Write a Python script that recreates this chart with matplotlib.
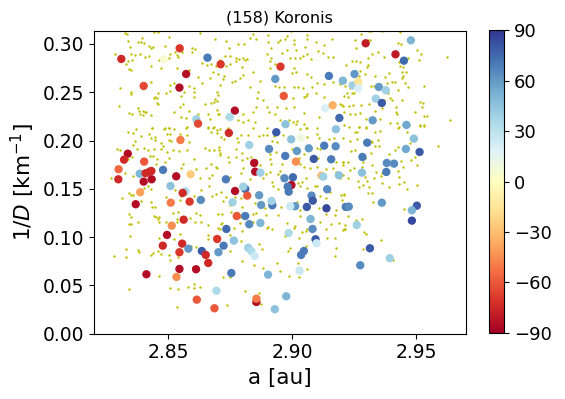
import numpy as np
import matplotlib
matplotlib.use("Agg")
import matplotlib.pyplot as plt

# objects with pole solutions: semimajor axis, 1/D, pole latitude
pole_a = [2.8312, 2.8547, 2.8659, 2.8712, 2.8484, 2.8573, 2.8402, 2.8546, 2.8614, 2.8621,
          2.8953, 2.8932, 2.9148, 2.9204, 2.8966, 2.8769, 2.8749, 2.9133, 2.9163, 2.9190,
          2.8973, 2.9176, 2.9296, 2.9478, 2.9416, 2.9450, 2.9251, 2.9243, 2.9266, 2.9266,
          2.9349, 2.9377, 2.9337, 2.9361, 2.9324, 2.9460, 2.8550, 2.8338, 2.8323, 2.8404,
          2.8301, 2.8300, 2.8386, 2.8410, 2.8426, 2.8433, 2.8402, 2.8434, 2.8480, 2.8533,
          2.8591, 2.8510, 2.8388, 2.8570, 2.8559, 2.8370, 2.8511, 2.8587, 2.8632, 2.8563,
          2.8515, 2.8745, 2.8936, 2.8827, 2.9035, 2.8996, 2.9129, 2.9175, 2.8907, 2.9019,
          2.9067, 2.8972, 2.9015, 2.9087, 2.9157, 2.8847, 2.8851, 2.8872, 2.8733, 2.8969,
          2.9003, 2.8997, 2.9118, 2.9125, 2.9188, 2.8982, 2.8986, 2.8770, 2.8811, 2.8803,
          2.8819, 2.8867, 2.8760, 2.8875, 2.8920, 2.8917, 2.9012, 2.8992, 2.9059, 2.9078,
          2.9083, 2.9141, 2.9138, 2.9216, 2.8777, 2.8811, 2.8827, 2.8872, 2.9074, 2.9082,
          2.8735, 2.9490, 2.9458, 2.9513, 2.9302, 2.9283, 2.9381, 2.9410, 2.9379, 2.9281,
          2.9228, 2.9361, 2.9502, 2.9482, 2.9482, 2.9260, 2.8496, 2.8557, 2.8479, 2.8546,
          2.8582, 2.8636, 2.8652, 2.8662, 2.8698, 2.8703, 2.8546, 2.8613, 2.8413, 2.8534,
          2.8695, 2.8616, 2.8687, 2.8765, 2.8724, 2.8823, 2.8835, 2.8849, 2.8986, 2.9094,
          2.9098, 2.9047, 2.9036, 2.9030, 2.8755, 2.8903, 2.8976, 2.8856, 2.8856, 2.8930,
          2.9313, 2.9393, 2.9274]
pole_invd = [0.2845, 0.2955, 0.2858, 0.2790, 0.2842, 0.2689, 0.2565, 0.2548, 0.2221, 0.2175,
             0.2765, 0.2638, 0.2669, 0.2620, 0.2462, 0.2310, 0.2244, 0.2334, 0.2365, 0.2234,
             0.2169, 0.2117, 0.3007, 0.3038, 0.2893, 0.2827, 0.2689, 0.2572, 0.2610, 0.2541,
             0.2555, 0.2521, 0.2434, 0.2389, 0.2210, 0.2162, 0.2006, 0.1864, 0.1802, 0.1782,
             0.1703, 0.1599, 0.1657, 0.1662, 0.1678, 0.1685, 0.1575, 0.1599, 0.1696, 0.1630,
             0.1651, 0.1530, 0.1465, 0.1475, 0.1458, 0.1341, 0.1357, 0.1368, 0.1385, 0.1181,
             0.1119, 0.2079, 0.2086, 0.1954, 0.2030, 0.2013, 0.1947, 0.1941, 0.1913, 0.1892,
             0.1920, 0.1841, 0.1782, 0.1810, 0.1806, 0.1768, 0.1678, 0.1668, 0.1599, 0.1610,
             0.1620, 0.1540, 0.1637, 0.1626, 0.1641, 0.1523, 0.1471, 0.1478, 0.1499, 0.1523,
             0.1430, 0.1434, 0.1361, 0.1333, 0.1330, 0.1375, 0.1320, 0.1320, 0.1313, 0.1430,
             0.1378, 0.1496, 0.1299, 0.1313, 0.1219, 0.1219, 0.1134, 0.1147, 0.1188, 0.1085,
             0.1085, 0.2020, 0.1913, 0.1882, 0.1978, 0.1830, 0.1768, 0.1761, 0.1675, 0.1668,
             0.1316, 0.1357, 0.1326, 0.1278, 0.1171, 0.1126, 0.1023, 0.0933, 0.0912, 0.0844,
             0.0881, 0.0857, 0.0816, 0.0733, 0.0981, 0.0844, 0.0671, 0.0668, 0.0616, 0.0588,
             0.0446, 0.0353, 0.0264, 0.0964, 0.0912, 0.0891, 0.0857, 0.0805, 0.1043, 0.0978,
             0.0937, 0.0857, 0.0816, 0.0653, 0.0629, 0.0612, 0.0388, 0.0329, 0.0363, 0.0254,
             0.0885, 0.0782, 0.0709]
pole_beta = [-75, -70, 70, -70, 5, -85, -65, -85, 40, -65,
             -70, 60, 70, 50, -60, -85, 35, 20, -35, 75,
             45, 45, -80, 50, -80, 75, 60, 40, -15, 20,
             60, 40, 40, 80, 60, 55, -50, -85, -75, -60,
             -55, -75, 50, -75, -75, -75, -85, -85, 70, -85,
             -25, 45, -40, 35, -75, -85, -50, -70, 65, -75,
             -45, -75, 80, 40, 10, 45, 70, 65, 65, 60,
             60, 70, -45, 80, 70, -85, -85, 40, 70, 65,
             75, -85, -30, 40, 45, 70, 70, -85, 75, 40,
             -60, 60, 40, 60, 70, 40, 60, 25, 80, 65,
             80, 65, 85, 70, -60, 70, 65, 50, 50, 65,
             75, 45, 55, 80, 70, 70, 65, 65, 70, 45,
             65, 60, 80, 50, 85, 40, -85, -75, -75, -70,
             60, 80, -75, -75, -70, 60, -85, -85, -85, -45,
             35, -60, -60, 45, 70, 40, 35, 25, 35, 80,
             25, 70, 70, 25, 70, 50, 50, -85, -50, 45,
             80, 40, 65]

# all family members (a, 1/D)
family_pts = [
    (2.8325, 0.3111), (2.8333, 0.3100), (2.8395, 0.3066), (2.8443, 0.3121), (2.8460, 0.3128),
    (2.8502, 0.3076), (2.8627, 0.3111), (2.8689, 0.3052), (2.8339, 0.3035), (2.8380, 0.3018),
    (2.8391, 0.3025), (2.8402, 0.3007), (2.8347, 0.2973), (2.8423, 0.2980), (2.8433, 0.2956),
    (2.8439, 0.2966), (2.8489, 0.2983), (2.8285, 0.2893), (2.8351, 0.2900), (2.8368, 0.2887),
    (2.8387, 0.2893), (2.8409, 0.2866), (2.8422, 0.2876), (2.8465, 0.2831), (2.8505, 0.2859),
    (2.8509, 0.2893), (2.8528, 0.2914), (2.8537, 0.2887), (2.8542, 0.2862), (2.8557, 0.2921),
    (2.8595, 0.2956), (2.8609, 0.2949), (2.8595, 0.2921), (2.8339, 0.2824), (2.8355, 0.2831),
    (2.8331, 0.2790), (2.8431, 0.2776), (2.8471, 0.2749), (2.8537, 0.2749), (2.8343, 0.2738),
    (2.8351, 0.2728), (2.8638, 0.2807), (2.8659, 0.2783), (2.8674, 0.2790), (2.8695, 0.2769),
    (2.8680, 0.2714), (2.8671, 0.2645), (2.8584, 0.2731), (2.8620, 0.2662), (2.8526, 0.2593),
    (2.8510, 0.2576), (2.8585, 0.2566), (2.8635, 0.2593), (2.8308, 0.2541), (2.8352, 0.2507),
    (2.8349, 0.2479), (2.8430, 0.2604), (2.8459, 0.2497), (2.8446, 0.2455), (2.8442, 0.2438),
    (2.8454, 0.2438), (2.8507, 0.2514), (2.8493, 0.2490), (2.8604, 0.2548), (2.8606, 0.2507),
    (2.8606, 0.2455), (2.8566, 0.2507), (2.8553, 0.2466), (2.8561, 0.2379), (2.8550, 0.2345),
    (2.8648, 0.2383), (2.8674, 0.2393), (2.8690, 0.2431), (2.8687, 0.2400), (2.8698, 0.2410),
    (2.8454, 0.2386), (2.8460, 0.2376), (2.8302, 0.2362), (2.8379, 0.2335), (2.8385, 0.2307),
    (2.8389, 0.2279), (2.8401, 0.2307), (2.8408, 0.2293), (2.8401, 0.2265), (2.8413, 0.2293),
    (2.8430, 0.2265), (2.8343, 0.2290), (2.8357, 0.2279), (2.8526, 0.2293), (2.8585, 0.2307),
    (2.8622, 0.2279), (2.8660, 0.2279), (2.8699, 0.2317), (2.8703, 0.2272), (2.8551, 0.2245),
    (2.8573, 0.2234), (2.8668, 0.2221), (2.8435, 0.2128), (2.8486, 0.2128), (2.8502, 0.2128),
    (2.8576, 0.2138), (2.8663, 0.2138), (2.8687, 0.2141),
    (2.8842, 0.3100), (2.8830, 0.3066), (2.8856, 0.3052), (2.8901, 0.3094), (2.8978, 0.3083),
    (2.8970, 0.3052), (2.8994, 0.3135), (2.9061, 0.3094), (2.9058, 0.3052), (2.9160, 0.3052),
    (2.8735, 0.3035), (2.8781, 0.2997), (2.8804, 0.2997), (2.8746, 0.2956), (2.8903, 0.3018),
    (2.8915, 0.2962), (2.8944, 0.3018), (2.8951, 0.3042), (2.8979, 0.2942), (2.9007, 0.3042),
    (2.9006, 0.2997), (2.9015, 0.2938), (2.9050, 0.2966), (2.9097, 0.3018), (2.9127, 0.2993),
    (2.9102, 0.2924), (2.8730, 0.2880), (2.8751, 0.2876), (2.8773, 0.2859), (2.8784, 0.2845),
    (2.8800, 0.2852), (2.8775, 0.2824), (2.8812, 0.2831), (2.8818, 0.2845), (2.8708, 0.2835),
    (2.8749, 0.2793), (2.8796, 0.2766), (2.8733, 0.2776), (2.8897, 0.2893), (2.8916, 0.2852),
    (2.8960, 0.2907), (2.8993, 0.2859), (2.9031, 0.2852), (2.9013, 0.2852), (2.9044, 0.2880),
    (2.9058, 0.2893), (2.9076, 0.2842), (2.9123, 0.2904), (2.9145, 0.2869), (2.9165, 0.2862),
    (2.8910, 0.2824), (2.8932, 0.2790), (2.8911, 0.2755), (2.8950, 0.2755), (2.9006, 0.2749),
    (2.9014, 0.2714), (2.9001, 0.2697), (2.9060, 0.2686), (2.9076, 0.2662), (2.8844, 0.2714),
    (2.8702, 0.2686), (2.8727, 0.2673), (2.8722, 0.2638), (2.8757, 0.2604), (2.8769, 0.2617),
    (2.8789, 0.2645), (2.8800, 0.2679), (2.8829, 0.2552), (2.8870, 0.2617), (2.8932, 0.2566),
    (2.8948, 0.2559), (2.8969, 0.2559), (2.9008, 0.2555), (2.9024, 0.2559), (2.9045, 0.2548),
    (2.9080, 0.2559), (2.9099, 0.2600), (2.9127, 0.2586), (2.9164, 0.2610), (2.9192, 0.2583),
    (2.8711, 0.2576), (2.8698, 0.2507), (2.8702, 0.2473), (2.8864, 0.2507), (2.8860, 0.2438),
    (2.8882, 0.2421), (2.9005, 0.2445), (2.9049, 0.2455), (2.9055, 0.2466), (2.9059, 0.2479),
    (2.9096, 0.2490), (2.9127, 0.2455), (2.9193, 0.2379), (2.9204, 0.2362), (2.9209, 0.2466),
    (2.8704, 0.2272), (2.8735, 0.2245), (2.8777, 0.2307), (2.8802, 0.2279), (2.8842, 0.2297),
    (2.8856, 0.2345), (2.8899, 0.2348), (2.8907, 0.2293), (2.8931, 0.2279), (2.8938, 0.2348),
    (2.8974, 0.2335), (2.9009, 0.2348), (2.9046, 0.2290), (2.9110, 0.2248), (2.8781, 0.2210),
    (2.8801, 0.2197), (2.8821, 0.2214), (2.8851, 0.2190), (2.8949, 0.2217), (2.8988, 0.2214),
    (2.9004, 0.2197), (2.9019, 0.2207), (2.9017, 0.2169), (2.9046, 0.2169), (2.9060, 0.2128),
    (2.8708, 0.2124), (2.9099, 0.2134), (2.9031, 0.2121),
    (2.9277, 0.3107), (2.9310, 0.3135), (2.9317, 0.3138), (2.9363, 0.3135), (2.9434, 0.3121),
    (2.9253, 0.3045), (2.9304, 0.3042), (2.9259, 0.2956), (2.9313, 0.3042), (2.9427, 0.3007),
    (2.9438, 0.2997), (2.9347, 0.2921), (2.9368, 0.2866), (2.9320, 0.2893), (2.9304, 0.2852),
    (2.9239, 0.2824), (2.9257, 0.2824), (2.9274, 0.2817), (2.9306, 0.2783), (2.9301, 0.2762),
    (2.9218, 0.2783), (2.9273, 0.2724), (2.9271, 0.2673), (2.9293, 0.2690), (2.9333, 0.2669),
    (2.9374, 0.2655), (2.9391, 0.2697), (2.9441, 0.2707), (2.9458, 0.2707), (2.9447, 0.2673),
    (2.9443, 0.2652), (2.9430, 0.2817), (2.9435, 0.2773), (2.9448, 0.2762), (2.9467, 0.2852),
    (2.9501, 0.2935), (2.9518, 0.2897), (2.9510, 0.2831), (2.9622, 0.2866), (2.9400, 0.2611),
    (2.9380, 0.2600), (2.9414, 0.2607), (2.9212, 0.2566), (2.9231, 0.2548), (2.9317, 0.2569),
    (2.9328, 0.2566), (2.9353, 0.2576), (2.9454, 0.2593), (2.9467, 0.2552), (2.9529, 0.2562),
    (2.9226, 0.2448), (2.9220, 0.2490), (2.9239, 0.2490), (2.9249, 0.2490), (2.9387, 0.2490),
    (2.9395, 0.2445), (2.9403, 0.2421), (2.9368, 0.2417), (2.9425, 0.2524), (2.9202, 0.2369),
    (2.9229, 0.2362), (2.9246, 0.2369), (2.9277, 0.2369), (2.9309, 0.2376), (2.9333, 0.2310),
    (2.9360, 0.2341), (2.9419, 0.2352), (2.9441, 0.2421), (2.9513, 0.2403), (2.9528, 0.2386),
    (2.9523, 0.2352), (2.9494, 0.2300), (2.9419, 0.2300), (2.9423, 0.2272), (2.9210, 0.2300),
    (2.9231, 0.2279), (2.9253, 0.2272), (2.9274, 0.2286), (2.9531, 0.2255), (2.9541, 0.2255),
    (2.9637, 0.2214), (2.9355, 0.2224), (2.9296, 0.2224), (2.9210, 0.2162), (2.9229, 0.2145),
    (2.9269, 0.2141), (2.9296, 0.2145), (2.9394, 0.2179), (2.9421, 0.2179), (2.9447, 0.2162),
    (2.9471, 0.2165), (2.9513, 0.2162), (2.9529, 0.2162), (2.9430, 0.2145),
    (2.8339, 0.2092), (2.8360, 0.2082), (2.8371, 0.2116), (2.8435, 0.2127), (2.8485, 0.2116),
    (2.8502, 0.2127), (2.8523, 0.2116), (2.8574, 0.2133), (2.8661, 0.2133), (2.8681, 0.2127),
    (2.8672, 0.2092), (2.8697, 0.2075), (2.8390, 0.2051), (2.8423, 0.2064), (2.8430, 0.2030),
    (2.8446, 0.2040), (2.8446, 0.2006), (2.8470, 0.1971), (2.8478, 0.1947), (2.8496, 0.2064),
    (2.8509, 0.2064), (2.8502, 0.2009), (2.8513, 0.1995), (2.8583, 0.1989), (2.8576, 0.2058),
    (2.8547, 0.2064), (2.8367, 0.1999), (2.8359, 0.1954), (2.8296, 0.1909), (2.8305, 0.1902),
    (2.8375, 0.1909), (2.8402, 0.1920), (2.8419, 0.1902), (2.8442, 0.1913), (2.8473, 0.1913),
    (2.8494, 0.1885), (2.8521, 0.1906), (2.8543, 0.1895), (2.8578, 0.1902), (2.8648, 0.1926),
    (2.8666, 0.1902), (2.8685, 0.1902), (2.8705, 0.1930), (2.8708, 0.1851), (2.8339, 0.1806),
    (2.8355, 0.1833), (2.8429, 0.1844), (2.8441, 0.1844), (2.8457, 0.1806), (2.8450, 0.1761),
    (2.8502, 0.1816), (2.8489, 0.1775), (2.8606, 0.1806), (2.8561, 0.1757), (2.8553, 0.1719),
    (2.8611, 0.1706), (2.8654, 0.1713), (2.8674, 0.1754), (2.8697, 0.1713), (2.8677, 0.1644),
    (2.8664, 0.1609), (2.8629, 0.1609), (2.8664, 0.1533), (2.8272, 0.1609), (2.8325, 0.1668),
    (2.8361, 0.1637), (2.8427, 0.1616), (2.8443, 0.1599), (2.8421, 0.1530), (2.8430, 0.1499),
    (2.8403, 0.1509), (2.8341, 0.1454), (2.8352, 0.1436), (2.8360, 0.1436), (2.8316, 0.1409),
    (2.8392, 0.1374), (2.8430, 0.1361), (2.8434, 0.1316), (2.8448, 0.1309), (2.8490, 0.1419),
    (2.8527, 0.1488), (2.8547, 0.1381), (2.8520, 0.1247), (2.8540, 0.1264), (2.8537, 0.1188),
    (2.8611, 0.1247), (2.8607, 0.1154), (2.8630, 0.1229), (2.8634, 0.1161), (2.8661, 0.1126),
    (2.8715, 0.1140), (2.8701, 0.1240), (2.8343, 0.1236), (2.8352, 0.1212), (2.8341, 0.1136),
    (2.8352, 0.1140), (2.8378, 0.1161), (2.8443, 0.1219), (2.8450, 0.1212), (2.8464, 0.1209),
    (2.8460, 0.1185), (2.8464, 0.1161), (2.8490, 0.1154), (2.8536, 0.1161), (2.8587, 0.1195),
    (2.8571, 0.1443), (2.8553, 0.1430), (2.8603, 0.1430), (2.8677, 0.1423), (2.8634, 0.1488),
    (2.8692, 0.1443),
    (2.8698, 0.2109), (2.8715, 0.2033), (2.8725, 0.2016), (2.8743, 0.2127), (2.8776, 0.2023),
    (2.8781, 0.1989), (2.8792, 0.2058), (2.8823, 0.2058), (2.8844, 0.2127), (2.8899, 0.2127),
    (2.8926, 0.2051), (2.8937, 0.1989), (2.8917, 0.1999), (2.8866, 0.2047), (2.8883, 0.2058),
    (2.8897, 0.2058), (2.8964, 0.2058), (2.9055, 0.2127), (2.9060, 0.2037), (2.9101, 0.2064),
    (2.9107, 0.2030), (2.9148, 0.2016), (2.9168, 0.2030), (2.9203, 0.2023), (2.9098, 0.1920),
    (2.9114, 0.1913), (2.8706, 0.1902), (2.8711, 0.1875), (2.8743, 0.1826), (2.8745, 0.1781),
    (2.8772, 0.1909), (2.8772, 0.1833), (2.8798, 0.1795), (2.8796, 0.1875), (2.8819, 0.1816),
    (2.8836, 0.1830), (2.8856, 0.1802), (2.8872, 0.1747), (2.8910, 0.1857), (2.8910, 0.1806),
    (2.8914, 0.1757), (2.8933, 0.1885), (2.8958, 0.1757), (2.8998, 0.1913), (2.9028, 0.1816),
    (2.9033, 0.1761), (2.9047, 0.1730), (2.9047, 0.1864), (2.9071, 0.1713), (2.9098, 0.1730),
    (2.9105, 0.1823), (2.9138, 0.1709), (2.9176, 0.1778), (2.9203, 0.1781), (2.9166, 0.1716),
    (2.8695, 0.1726), (2.8749, 0.1626), (2.8793, 0.1661), (2.8802, 0.1713), (2.8832, 0.1599),
    (2.8883, 0.1609), (2.8894, 0.1650), (2.8910, 0.1678), (2.8950, 0.1688), (2.8941, 0.1650),
    (2.8954, 0.1637), (2.8958, 0.1592), (2.8918, 0.1568), (2.8923, 0.1533), (2.8942, 0.1499),
    (2.9023, 0.1557), (2.9033, 0.1533), (2.9041, 0.1574), (2.9055, 0.1609), (2.9102, 0.1643),
    (2.9060, 0.1506), (2.9090, 0.1530), (2.9098, 0.1530), (2.9114, 0.1430), (2.9138, 0.1402),
    (2.9154, 0.1471), (2.9195, 0.1436), (2.9208, 0.1436), (2.9178, 0.1678), (2.9192, 0.1609),
    (2.8715, 0.1471), (2.8733, 0.1419), (2.8722, 0.1374), (2.8750, 0.1333), (2.8770, 0.1419),
    (2.8793, 0.1402), (2.8796, 0.1316), (2.8849, 0.1357), (2.8843, 0.1236), (2.8856, 0.1254),
    (2.8890, 0.1299), (2.8894, 0.1229), (2.8941, 0.1229), (2.8954, 0.1316), (2.9020, 0.1361),
    (2.9031, 0.1281), (2.9033, 0.1223), (2.9087, 0.1368), (2.9107, 0.1305), (2.9138, 0.1236),
    (2.9178, 0.1281), (2.9205, 0.1340), (2.8719, 0.1236), (2.8755, 0.1257), (2.8768, 0.1195),
    (2.8792, 0.1209), (2.8789, 0.1143), (2.8716, 0.1147), (2.8708, 0.1085), (2.8765, 0.1098),
    (2.8844, 0.1161), (2.8898, 0.1098), (2.8980, 0.1150), (2.9011, 0.1112), (2.9060, 0.1085),
    (2.9111, 0.1161), (2.9135, 0.1085), (2.9158, 0.1136), (2.9188, 0.1150), (2.9212, 0.1126),
    (2.9174, 0.1229),
    (2.9253, 0.2092), (2.9263, 0.2085), (2.9269, 0.2144), (2.9296, 0.2133), (2.9333, 0.2089),
    (2.9353, 0.2099), (2.9425, 0.2133), (2.9461, 0.2092), (2.9516, 0.2154), (2.9531, 0.2154),
    (2.9233, 0.1995), (2.9263, 0.2013), (2.9316, 0.1995), (2.9323, 0.1982), (2.9347, 0.2006),
    (2.9332, 0.1947), (2.9349, 0.1947), (2.9253, 0.1902), (2.9235, 0.1892), (2.9223, 0.1781),
    (2.9203, 0.1775), (2.9204, 0.1747), (2.9233, 0.1695), (2.9203, 0.1644), (2.9247, 0.1713),
    (2.9286, 0.1775), (2.9280, 0.1723), (2.9293, 0.1816), (2.9316, 0.1871), (2.9320, 0.1747),
    (2.9336, 0.1671), (2.9331, 0.1609), (2.9293, 0.1619), (2.9300, 0.1581), (2.9309, 0.1516),
    (2.9285, 0.1540), (2.9270, 0.1523), (2.9266, 0.1581), (2.9226, 0.1609), (2.9390, 0.1857),
    (2.9414, 0.1906), (2.9427, 0.1933), (2.9459, 0.1926), (2.9474, 0.1971), (2.9478, 0.1802),
    (2.9495, 0.1826), (2.9501, 0.1747), (2.9588, 0.1944), (2.9438, 0.1788), (2.9447, 0.1730),
    (2.9427, 0.1685), (2.9361, 0.1661), (2.9357, 0.1633), (2.9431, 0.1619), (2.9452, 0.1574),
    (2.9432, 0.1554), (2.9390, 0.1519), (2.9360, 0.1557), (2.9463, 0.1495), (2.9501, 0.1540),
    (2.9304, 0.1454), (2.9321, 0.1454), (2.9210, 0.1450), (2.9199, 0.1385), (2.9325, 0.1361),
    (2.9449, 0.1292), (2.9223, 0.1219), (2.9258, 0.1181), (2.9282, 0.1188), (2.9210, 0.1085),
    (2.8348, 0.1016), (2.8462, 0.0995), (2.8524, 0.0981), (2.8550, 0.1029), (2.8661, 0.1022),
    (2.8662, 0.0985), (2.8684, 0.1005), (2.8332, 0.0874), (2.8331, 0.0791), (2.8379, 0.0871),
    (2.8384, 0.0843), (2.8282, 0.0802), (2.8433, 0.0816), (2.8439, 0.0833), (2.8459, 0.0860),
    (2.8470, 0.0822), (2.8503, 0.0816), (2.8508, 0.0760), (2.8542, 0.0795), (2.8594, 0.0912),
    (2.8611, 0.0902), (2.8602, 0.0695), (2.8465, 0.0602), (2.8341, 0.0460), (2.8509, 0.0477),
    (2.8542, 0.0460), (2.8580, 0.0484), (2.8603, 0.0512), (2.8605, 0.0477), (2.8630, 0.0484),
    (2.8535, 0.0274),
    (2.8700, 0.1098), (2.8797, 0.1067), (2.8903, 0.1102), (2.8918, 0.1088), (2.9008, 0.1098),
    (2.9041, 0.1057), (2.9057, 0.1064), (2.9205, 0.1078), (2.8749, 0.1022), (2.8792, 0.0964),
    (2.8867, 0.0926), (2.8878, 0.0878), (2.8972, 0.1012), (2.9027, 0.0995), (2.9055, 0.0912),
    (2.8992, 0.0885), (2.8984, 0.0857), (2.9141, 0.0995), (2.9174, 0.0988), (2.9176, 0.0885),
    (2.9174, 0.0809), (2.8750, 0.0857), (2.8796, 0.0753), (2.8845, 0.0709), (2.8882, 0.0677),
    (2.8937, 0.0729), (2.8950, 0.0650), (2.8986, 0.0598), (2.9024, 0.0736), (2.9027, 0.0591),
    (2.9058, 0.0667), (2.8722, 0.0588), (2.8749, 0.0591), (2.8894, 0.0609), (2.8809, 0.0446),
    (2.8843, 0.0315), (2.8867, 0.0419), (2.8874, 0.0305), (2.8738, 0.0298),
    (2.9212, 0.1081), (2.9290, 0.1050), (2.9297, 0.1029), (2.9357, 0.0971), (2.9285, 0.0878),
    (2.9407, 0.0764),
]

x_ticks = [2.85, 2.90, 2.95]
y_ticks = [0.00, 0.05, 0.10, 0.15, 0.20, 0.25, 0.30]
cbar_ticks = [-90, -60, -30, 0, 30, 60, 90]

fam = np.array(family_pts)

fig = plt.figure(figsize=(5.65, 3.99), dpi=100)
ax = fig.add_axes([0.1655, 0.1635, 0.6593, 0.7590])
cax = fig.add_axes([0.8655, 0.1655, 0.0265, 0.7590])

ax.scatter(fam[:, 0], fam[:, 1], s=3, c='y', linewidths=0, zorder=1)
sc = ax.scatter(pole_a, pole_invd, c=pole_beta, cmap='RdYlBu', vmin=-90, vmax=90,
                s=36, linewidths=0, zorder=2)

ax.set_xlim(2.82, 2.97)
ax.set_ylim(0, 0.3135)
ax.set_xticks(x_ticks)
ax.set_yticks(y_ticks)
ax.set_xticklabels(['%.2f' % t for t in x_ticks])
ax.set_yticklabels(['%.2f' % t for t in y_ticks])
ax.tick_params(labelsize=13.5)
ax.set_xlabel('a [au]', fontsize=15.5)
ax.set_ylabel(r'1/$D$ [km$^{-1}$]', fontsize=15.5)
ax.set_title('(158) Koronis', fontsize=11.5)

cb = fig.colorbar(sc, cax=cax, ticks=cbar_ticks)
cb.ax.tick_params(labelsize=13)

fig.savefig('out.png', dpi=100)
